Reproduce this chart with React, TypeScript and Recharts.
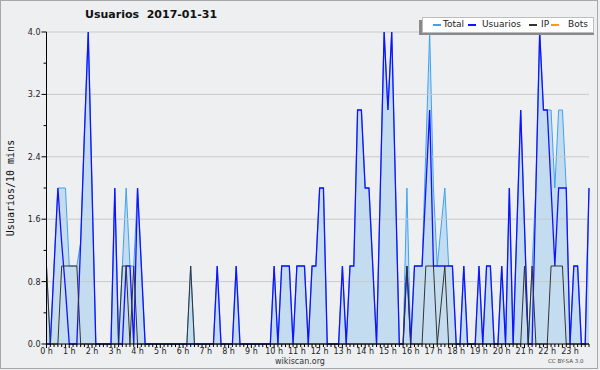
import React from 'react';
import { ComposedChart, Area, Line, XAxis, YAxis, ReferenceLine } from 'recharts';

// one value per 10 minutes, 0h00 .. 23h50 (12 values = 2 hours per row)
const total = [
  1, 0, 1, 2, 2, 2, 1, 1, 1, 1.3, 2.7, 4,
  2, 0, 0, 0, 0, 0, 2, 0, 1, 2, 1, 1,
  2, 1, 0, 0, 0, 0, 0, 0, 0, 0, 0, 0,
  0, 0, 1, 0, 0, 0, 0, 0, 0, 1, 0, 0,
  0, 0, 1, 0, 0, 0, 0, 0, 0, 0, 0, 0,
  1, 0, 1, 1, 1, 0, 1, 1, 1, 0, 1, 1,
  2, 2, 0, 0, 0, 0, 1, 0, 1, 1, 3, 3,
  2, 2, 1, 0, 2, 4, 3, 4, 2, 0, 0, 2,
  0, 1, 1, 1, 2.5, 4, 2, 1, 1.5, 2, 1, 1,
  0, 0, 1, 0, 0, 0, 1, 0, 1, 1, 0, 0,
  1, 0, 2, 0, 1.5, 3, 1.5, 0, 1, 2, 4, 3,
  3, 3, 2, 3, 3, 2, 0, 1, 1, 0, 0, 2,
];

const usuarios = [
  0, 0, 1, 2, 1.3, 0.7, 0, 0, 0, 1.3, 2.7, 4,
  2, 0, 0, 0, 0, 0, 2, 0, 0, 1, 1, 0,
  2, 1, 0, 0, 0, 0, 0, 0, 0, 0, 0, 0,
  0, 0, 0, 0, 0, 0, 0, 0, 0, 1, 0, 0,
  0, 0, 1, 0, 0, 0, 0, 0, 0, 0, 0, 0,
  1, 0, 1, 1, 1, 0, 1, 1, 1, 0, 1, 1,
  2, 2, 0, 0, 0, 0, 1, 0, 1, 1, 3, 3,
  2, 2, 1, 0, 2, 4, 3, 4, 2, 0, 0, 1,
  0, 1, 1, 1, 2, 3, 1, 1, 1, 1, 1, 1,
  0, 0, 1, 0, 0, 0, 1, 0, 1, 1, 0, 0,
  1, 0, 2, 0, 1.5, 3, 1.5, 0, 0, 2, 4, 3,
  3, 2, 1, 2, 2, 2, 0, 1, 1, 0, 0, 2,
];

const ip = [
  1, 0, 0, 0, 1, 1, 1, 1, 1, 0, 0, 0,
  0, 0, 0, 0, 0, 0, 0, 0, 1, 1, 0, 1,
  0, 0, 0, 0, 0, 0, 0, 0, 0, 0, 0, 0,
  0, 0, 1, 0, 0, 0, 0, 0, 0, 0, 0, 0,
  0, 0, 0, 0, 0, 0, 0, 0, 0, 0, 0, 0,
  0, 0, 0, 0, 0, 0, 0, 0, 0, 0, 0, 0,
  0, 0, 0, 0, 0, 0, 0, 0, 0, 0, 0, 0,
  0, 0, 0, 0, 0, 0, 0, 0, 0, 0, 0, 1,
  0, 0, 0, 0, 1, 1, 1, 0, 0.5, 1, 0, 0,
  0, 0, 0, 0, 0, 0, 0, 0, 0, 0, 0, 0,
  0, 0, 0, 0, 0, 0, 1, 0, 1, 0, 0, 0,
  0, 1, 1, 1, 1, 0, 0, 0, 0, 0, 0, 0,
];

const hourLabels = [
  '0 h', '1 h', '2 h', '3 h', '4 h', '5 h', '6 h', '7 h', '8 h', '9 h', '10 h', '11 h',
  '12 h', '13 h', '14 h', '15 h', '16 h', '17 h', '18 h', '19 h', '20 h', '21 h', '22 h', '23 h',
];
const yTicks = [0, 0.4, 0.8, 1.2, 1.6, 2.0, 2.4, 2.8, 3.2, 3.6, 4.0];
const yLabels = [0, 0.8, 1.6, 2.4, 3.2, 4.0];

const legendItems = [
  { name: 'Total', color: '#3fa2f2', line: 433, text: 443 },
  { name: 'Usuarios', color: '#1212ff', line: 468, text: 482 },
  { name: 'IP', color: '#333333', line: 529, text: 541 },
  { name: 'Bots', color: '#ff9a00', line: 551, text: 568 },
];

const data = total.map((t, i) => ({ slot: i, total: t, usuarios: usuarios[i], ip: ip[i] }));
const xTicks = data.map(d => d.slot);

const font = '"DejaVu Sans", sans-serif';

const XTick = ({ x, y, payload }: any) => {
  const isHour = payload.value % 6 === 0;
  return (
    <g>
      <line x1={x} x2={x} y1={y} y2={y + (isHour ? 4 : 3)} stroke="#000" />
      {isHour && (
        <text x={x} y={y + 10} textAnchor="middle" fontSize={8} fontFamily={font} fill="#222">
          {hourLabels[payload.value / 6]}
        </text>
      )}
    </g>
  );
};

const YTick = ({ x, y, payload }: any) => {
  const major = yLabels.includes(payload.value);
  return (
    <g>
      <line x1={x - (major ? 5 : 3)} x2={x} y1={y} y2={y} stroke="#000" />
      {major && (
        <text x={x - 6} y={y + 3} textAnchor="end" fontSize={8} fontFamily={font} fill="#222">
          {payload.value.toFixed(1)}
        </text>
      )}
    </g>
  );
};

export default function App() {
  return (
    <div style={{ position: 'absolute', left: 0, top: 0, width: 600, height: 370, background: '#eeeff1', fontFamily: font }}>
      <div style={{ position: 'absolute', left: 0, top: 0, width: 596, height: 367, border: '1px solid #a8a8a8' }} />
      <div style={{ position: 'absolute', left: 85, top: 8, fontSize: 11, fontWeight: 'bold', color: '#111', whiteSpace: 'pre' }}>
        {'Usuarios  2017-01-31'}
      </div>
      <div style={{ position: 'absolute', left: 10, top: 188, width: 0, height: 0 }}>
        <div style={{ position: 'absolute', transform: 'translate(-50%, -50%) rotate(-90deg)', fontFamily: '"DejaVu Sans Mono", monospace', fontSize: 10, color: '#111', whiteSpace: 'nowrap' }}>
          Usuarios/10 mins
        </div>
      </div>
      <ComposedChart width={600} height={370} data={data} margin={{ top: 32, right: 11, bottom: 6, left: 0 }}>
        {yLabels.slice(1).map(v => (
          <ReferenceLine key={v} y={v} stroke="#c9c9c9" strokeWidth={1} />
        ))}
        <Area type="linear" dataKey="total" stroke="#3fa2f2" strokeWidth={1} fill="#c4dcf0" fillOpacity={1} dot={false} isAnimationActive={false} />
        <Line type="linear" dataKey="usuarios" stroke="#1212ff" strokeWidth={1.3} dot={false} isAnimationActive={false} />
        <Line type="linear" dataKey="ip" stroke="#333333" strokeWidth={1} dot={false} isAnimationActive={false} />
        <XAxis
          dataKey="slot"
          type="number"
          domain={[0, 143]}
          ticks={xTicks}
          interval={0}
          height={20}
          tickSize={0}
          tickMargin={0}
          tickLine={false}
          axisLine={{ stroke: '#000' }}
          tick={XTick}
        />
        <YAxis
          type="number"
          domain={[0, 4]}
          ticks={yTicks}
          interval={0}
          width={46.5}
          tickSize={0}
          tickMargin={0}
          tickLine={false}
          axisLine={{ stroke: '#000' }}
          tick={YTick}
        />
      </ComposedChart>
      <div style={{ position: 'absolute', left: 419, top: 20, width: 175, height: 15, background: '#8a8a8a' }} />
      <div style={{ position: 'absolute', left: 422, top: 17, width: 170, height: 14, background: '#fff', border: '1px solid #bdbdbd' }} />
      {legendItems.map(item => (
        <React.Fragment key={item.name}>
          <div style={{ position: 'absolute', left: item.line, top: 24, width: 8, height: 1.5, background: item.color }} />
          <div style={{ position: 'absolute', left: item.text, top: 18, fontSize: 9, lineHeight: '12px', color: '#222' }}>{item.name}</div>
        </React.Fragment>
      ))}
      <div style={{ position: 'absolute', left: 250, width: 100, top: 357, textAlign: 'center', fontSize: 8, lineHeight: '9px', color: '#333' }}>wikiscan.org</div>
      <div style={{ position: 'absolute', left: 548, top: 358, fontSize: 5.5, lineHeight: '7px', color: '#444', whiteSpace: 'nowrap' }}>CC BY-SA 3.0</div>
    </div>
  );
}
